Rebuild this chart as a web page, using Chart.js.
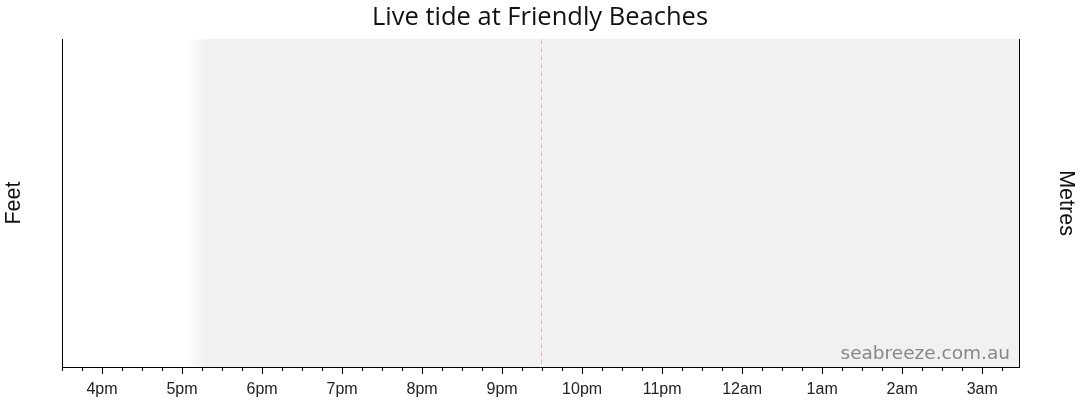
<!DOCTYPE html>
<html>
<head>
<meta charset="utf-8">
<title>Live tide at Friendly Beaches</title>
<script src="https://cdn.jsdelivr.net/npm/chart.js@4/dist/chart.umd.min.js"></script>
<style>
  html, body { margin: 0; padding: 0; background: #fff; }
  #wrap { width: 1080px; height: 414px; }
</style>
</head>
<body>
<div id="wrap"><canvas id="tide"></canvas></div>
<script>
// === Data ===
// hours since midnight of the first day (16 = 4pm, 27 = 3am next day)
const tickHours = [16, 17, 18, 19, 20, 21, 22, 23, 24, 25, 26, 27];
const tickLabels = ['4pm', '5pm', '6pm', '7pm', '8pm', '9pm', '10pm', '11pm', '12am', '1am', '2am', '3am'];
const viewRange = [15.5, 27.46];      // visible window
const nightStart = [17.05, 17.3];     // fade in of the dark band (sunset)
const nowHour = [21.48];              // "now" marker
const tideFeet = [];                  // no live readings shown
const tideMetres = [];

const FONT = "'Liberation Sans', Arial, sans-serif";
const TITLE_FONT = "'Open Sans', 'Noto Sans', sans-serif";
const MARK_FONT = "'DejaVu Sans', Verdana, sans-serif";

// === Plugin: night shading, now line, minor ticks, watermark ===
const tideDecor = {
    id: 'tideDecor',
    beforeDatasetsDraw(chart) {
        const { ctx, chartArea: a, scales: { x } } = chart;
        const x0 = x.getPixelForValue(nightStart[0]);
        const x1 = x.getPixelForValue(nightStart[1]);
        ctx.save();
        const g = ctx.createLinearGradient(x0, 0, x1, 0);
        g.addColorStop(0, 'rgba(241,241,241,0)');
        g.addColorStop(1, 'rgba(241,241,241,1)');
        ctx.fillStyle = g;
        ctx.fillRect(x0, a.top, x1 - x0, a.bottom - a.top);
        ctx.fillStyle = '#f1f1f1';
        ctx.fillRect(x1, a.top, a.right - x1, a.bottom - a.top);

        // now line
        const nx = Math.round(x.getPixelForValue(nowHour[0])) + 0.5;
        ctx.strokeStyle = '#f2b4b4';
        ctx.lineWidth = 1;
        ctx.setLineDash([5, 3]);
        ctx.beginPath();
        ctx.moveTo(nx, a.top);
        ctx.lineTo(nx, a.bottom);
        ctx.stroke();
        ctx.setLineDash([]);

        // watermark
        ctx.fillStyle = '#888';
        ctx.font = '18.5px ' + MARK_FONT;
        ctx.textAlign = 'right';
        ctx.textBaseline = 'alphabetic';
        ctx.fillText('seabreeze.com.au', a.right - 9, a.bottom - 8);
        ctx.restore();
    },
    afterDraw(chart) {
        const { ctx, chartArea: a, scales: { x } } = chart;
        ctx.save();
        ctx.strokeStyle = '#000';
        ctx.lineWidth = 1;
        // bottom axis line
        ctx.beginPath();
        ctx.moveTo(a.left, a.bottom + 0.5);
        ctx.lineTo(a.right, a.bottom + 0.5);
        ctx.stroke();
        // quarter hour ticks
        for (let h = Math.ceil(viewRange[0] * 4) / 4; h <= viewRange[1]; h += 0.25) {
            const px = Math.round(x.getPixelForValue(h)) + 0.5;
            const major = Number.isInteger(h);
            ctx.beginPath();
            ctx.moveTo(px, a.bottom + 1);
            ctx.lineTo(px, a.bottom + (major ? 7 : 4));
            ctx.stroke();
        }
        ctx.restore();
    }
};

// === Chart ===
const ctx = document.getElementById('tide').getContext('2d');
new Chart(ctx, {
    type: 'line',
    data: {
        datasets: [
            { label: 'Feet', data: tideFeet, yAxisID: 'y', borderColor: '#2a6fb5' },
            { label: 'Metres', data: tideMetres, yAxisID: 'y1', borderColor: '#2a6fb5' }
        ]
    },
    options: {
        responsive: true,
        maintainAspectRatio: false,
        animation: false,
        layout: { padding: 0 },
        plugins: {
            legend: { display: false },
            tooltip: { enabled: false },
            title: {
                display: true,
                text: 'Live tide at Friendly Beaches',
                color: '#111',
                font: { family: TITLE_FONT, size: 25.5, weight: 'normal', lineHeight: 1.2 },
                padding: { top: 2, bottom: 6.5 }
            }
        },
        scales: {
            x: {
                type: 'linear',
                min: viewRange[0],
                max: viewRange[1],
                afterBuildTicks(scale) {
                    scale.ticks = tickHours.map(v => ({ value: v }));
                },
                afterFit(scale) { scale.height = 47; },
                grid: { display: false, drawTicks: false },
                border: { display: false },
                ticks: {
                    autoSkip: false,
                    maxRotation: 0,
                    padding: 13,
                    color: '#222',
                    font: { family: FONT, size: 16 },
                    callback: (v) => tickLabels[tickHours.indexOf(v)]
                }
            },
            y: {
                position: 'left',
                min: 0, max: 1,
                afterFit(scale) { scale.width = 62; },
                grid: { display: false, drawTicks: false },
                border: { display: true, color: '#000', width: 1 },
                ticks: { display: false },
                title: {
                    display: true, text: 'Feet', color: '#111',
                    font: { family: FONT, size: 21.5 },
                    padding: { top: 1, bottom: 2 }
                }
            },
            y1: {
                position: 'right',
                min: 0, max: 1,
                afterFit(scale) { scale.width = 61; },
                grid: { display: false, drawTicks: false },
                border: { display: true, color: '#000', width: 1 },
                ticks: { display: false },
                title: {
                    display: true, text: 'Metres', color: '#111',
                    font: { family: FONT, size: 21.5 },
                    padding: { top: 1, bottom: 2 }
                }
            }
        }
    },
    plugins: [tideDecor]
});
</script>
</body>
</html>
